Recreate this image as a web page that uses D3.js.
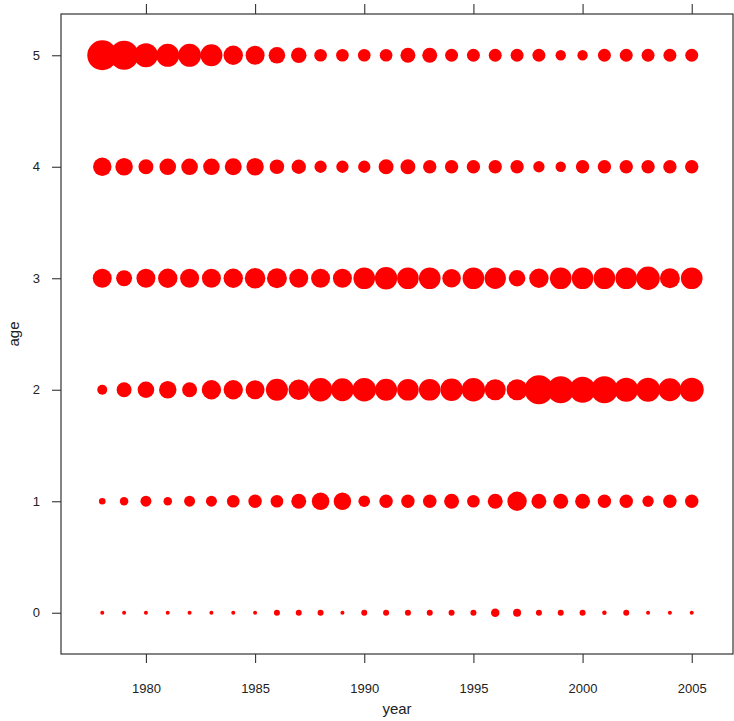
<!DOCTYPE html>
<html>
<head>
<meta charset="utf-8">
<script src="https://cdn.jsdelivr.net/npm/d3@7"></script>
<style>
  html, body { margin: 0; padding: 0; background: #fff; }
  svg { display: block; }
  text { font-family: "Liberation Sans", Arial, sans-serif; fill: #222; }
</style>
</head>
<body>
<svg id="chart" width="734" height="721"></svg>
<script>
// ---- data (bubble value ~ area) ----
const years = d3.range(1978, 2006);
const ages = [0, 1, 2, 3, 4, 5];
const age0 = [4, 4, 4, 4, 4, 4, 4, 4, 9, 9, 9, 4, 9, 9, 9, 9, 9, 9, 18, 16, 9, 9, 9, 5, 9, 4, 4, 4];
const age1 = [11, 18, 30, 18, 30, 30, 40, 45, 40, 56, 77, 76, 34, 45, 45, 46, 56, 40, 56, 94, 56, 56, 56, 45, 45, 32, 45, 45];
const age2 = [25, 56, 69, 76, 56, 94, 94, 90, 121, 106, 137, 130, 140, 121, 117, 117, 125, 137, 110, 110, 210, 182, 169, 182, 144, 144, 132, 144];
const age3 = [90, 64, 90, 94, 90, 90, 94, 106, 100, 90, 90, 90, 117, 125, 117, 117, 86, 117, 114, 69, 94, 117, 117, 117, 117, 137, 100, 117];
const age4 = [85, 77, 56, 69, 69, 69, 72, 76, 53, 52, 38, 38, 38, 56, 56, 45, 45, 45, 45, 45, 32, 27, 45, 45, 45, 45, 45, 45];
const age5 = [225, 210, 144, 132, 132, 121, 94, 90, 69, 60, 40, 40, 40, 40, 56, 56, 42, 42, 42, 42, 42, 27, 27, 42, 42, 42, 42, 42];
const xTicks = [1980, 1985, 1990, 1995, 2000, 2005];
const yTicks = [0, 1, 2, 3, 4, 5];

const series = [age0, age1, age2, age3, age4, age5];
const points = [];
ages.forEach((a, i) => years.forEach((yr, j) => points.push({ year: yr, age: a, value: series[i][j] })));

// ---- layout ----
const svg = d3.select("#chart");
const mLeft = 61, mRight = 733, mTop = 14, mBottom = 654;

const x = d3.scaleLinear().domain([1976.11, 2006.89]).range([mLeft, mRight]);
const y = d3.scaleLinear().domain([-0.37, 5.37]).range([mBottom, mTop]);
const r = d3.scaleSqrt().domain([0, 225]).range([0, 15]);

// bubbles
svg.append("g")
  .selectAll("circle")
  .data(points)
  .join("circle")
  .attr("cx", d => x(d.year))
  .attr("cy", d => y(d.age))
  .attr("r", d => r(d.value))
  .attr("fill", "#ff0000");

// frame
svg.append("rect")
  .attr("x", mLeft).attr("y", mTop)
  .attr("width", mRight - mLeft).attr("height", mBottom - mTop)
  .attr("fill", "none").attr("stroke", "#333").attr("stroke-width", 1.2);

// axes
const styleAxis = g => {
  g.select(".domain").remove();
  g.selectAll(".tick line").attr("stroke", "#333").attr("stroke-width", 1.1);
  g.selectAll(".tick text").attr("font-size", 13).attr("fill", "#222")
    .attr("font-family", "'Liberation Sans', Arial, sans-serif");
};

svg.append("g")
  .attr("transform", `translate(0,${mBottom})`)
  .call(d3.axisBottom(x).tickValues(xTicks).tickFormat(d3.format("d")).tickSize(9).tickPadding(21))
  .call(styleAxis);

svg.append("g")
  .attr("transform", `translate(0,${mTop})`)
  .call(d3.axisTop(x).tickValues(xTicks).tickFormat("").tickSize(10))
  .call(styleAxis);

svg.append("g")
  .attr("transform", `translate(${mLeft},0)`)
  .call(d3.axisLeft(y).tickValues(yTicks).tickFormat(d3.format("d")).tickSize(9).tickPadding(12))
  .call(styleAxis);

// axis titles
svg.append("text")
  .attr("x", (mLeft + mRight) / 2).attr("y", 714)
  .attr("text-anchor", "middle").attr("font-size", 15).text("year");

svg.append("text")
  .attr("transform", `translate(15,${(mTop + mBottom) / 2}) rotate(-90)`)
  .attr("text-anchor", "middle").attr("dominant-baseline", "middle")
  .attr("font-size", 15).text("age");
</script>
</body>
</html>
